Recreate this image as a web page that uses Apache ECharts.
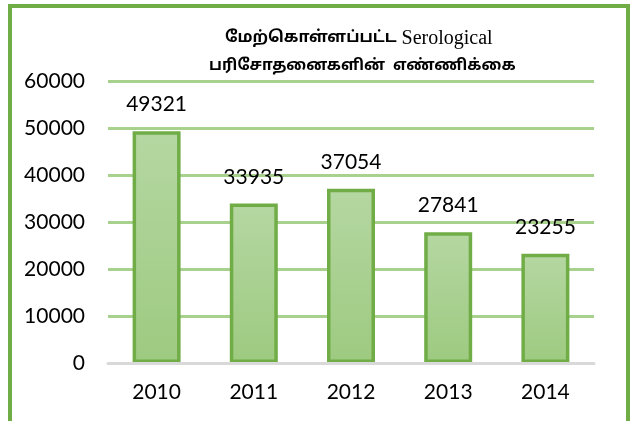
<!DOCTYPE html>
<html>
<head>
<meta charset="utf-8">
<style>
  html, body { margin: 0; padding: 0; background: #fff; }
  #chart { width: 635px; height: 421px; }
</style>
<script src="https://cdn.jsdelivr.net/npm/echarts@6/dist/echarts.min.js"></script>
</head>
<body>
<div id="chart"></div>
<script>
// Number of serological tests performed per year
const years = ['2010', '2011', '2012', '2013', '2014'];
const testCounts = [49321, 33935, 37054, 27841, 23255];
const yTicks = { min: 0, max: 60000, interval: 10000 };
const titleLine1 = ['மேற்கொள்ளப்பட்ட', 'Serological'];
const titleLine2 = 'பரிசோதனைகளின்  எண்ணிக்கை';

const GREEN = '#70AD47';
const GRID_GREEN = '#A9D18E';
const NUM_FONT = 'Lato, "Open Sans", sans-serif';
const TAMIL_FONT = '"Noto Sans Tamil", "Noto Sans", "Lohit Tamil", sans-serif';

const chart = echarts.init(document.getElementById('chart'), null, { renderer: 'canvas' });

chart.setOption({
  backgroundColor: '#ffffff',
  animation: false,
  title: [
    {
      text: '{t|' + titleLine1[0] + '} {s|' + titleLine1[1] + '}',
      left: 220,
      top: 24,
      textStyle: {
        rich: {
          t: { fontFamily: TAMIL_FONT, fontWeight: 'bold', fontSize: 16, color: '#000' },
          s: { fontFamily: '"Liberation Serif", "Times New Roman", serif', fontWeight: 'normal', fontSize: 20, color: '#000' }
        }
      }
    },
    {
      text: titleLine2,
      left: 204,
      top: 54,
      textStyle: { fontFamily: TAMIL_FONT, fontWeight: 'bold', fontSize: 15.5, color: '#000' }
    }
  ],
  graphic: [
    {
      type: 'rect',
      shape: { x: 10, y: 6, width: 618, height: 440 },
      style: { fill: null, stroke: GREEN, lineWidth: 4 },
      silent: true,
      z: 100
    }
  ],
  grid: { left: 108, right: 41, top: 81, bottom: 58 },
  xAxis: {
    type: 'category',
    data: years,
    z: 5,
    axisLine: { show: true, lineStyle: { color: '#D9D9D9', width: 3 } },
    axisTick: { show: false },
    axisLabel: { color: '#000', fontFamily: NUM_FONT, fontSize: 21, margin: 19 }
  },
  yAxis: {
    type: 'value',
    min: yTicks.min,
    max: yTicks.max,
    interval: yTicks.interval,
    axisLine: { show: false },
    axisTick: { show: false },
    axisLabel: {
      color: '#000', fontFamily: NUM_FONT, fontSize: 21, margin: 23,
      formatter: (v) => String(v)
    },
    splitLine: { lineStyle: { color: GRID_GREEN, width: 3 } }
  },
  series: [
    {
      type: 'bar',
      data: testCounts,
      barWidth: 48,
      z: 3,
      itemStyle: {
        color: new echarts.graphic.LinearGradient(0, 0, 0, 1, [
          { offset: 0, color: '#B5D7A2' },
          { offset: 1, color: '#9DCA80' }
        ]),
        borderColor: GREEN,
        borderWidth: 3.5
      },
      label: {
        show: true,
        position: 'top',
        distance: 16,
        color: '#000',
        fontFamily: NUM_FONT,
        fontSize: 21
      }
    }
  ]
});
</script>
</body>
</html>
